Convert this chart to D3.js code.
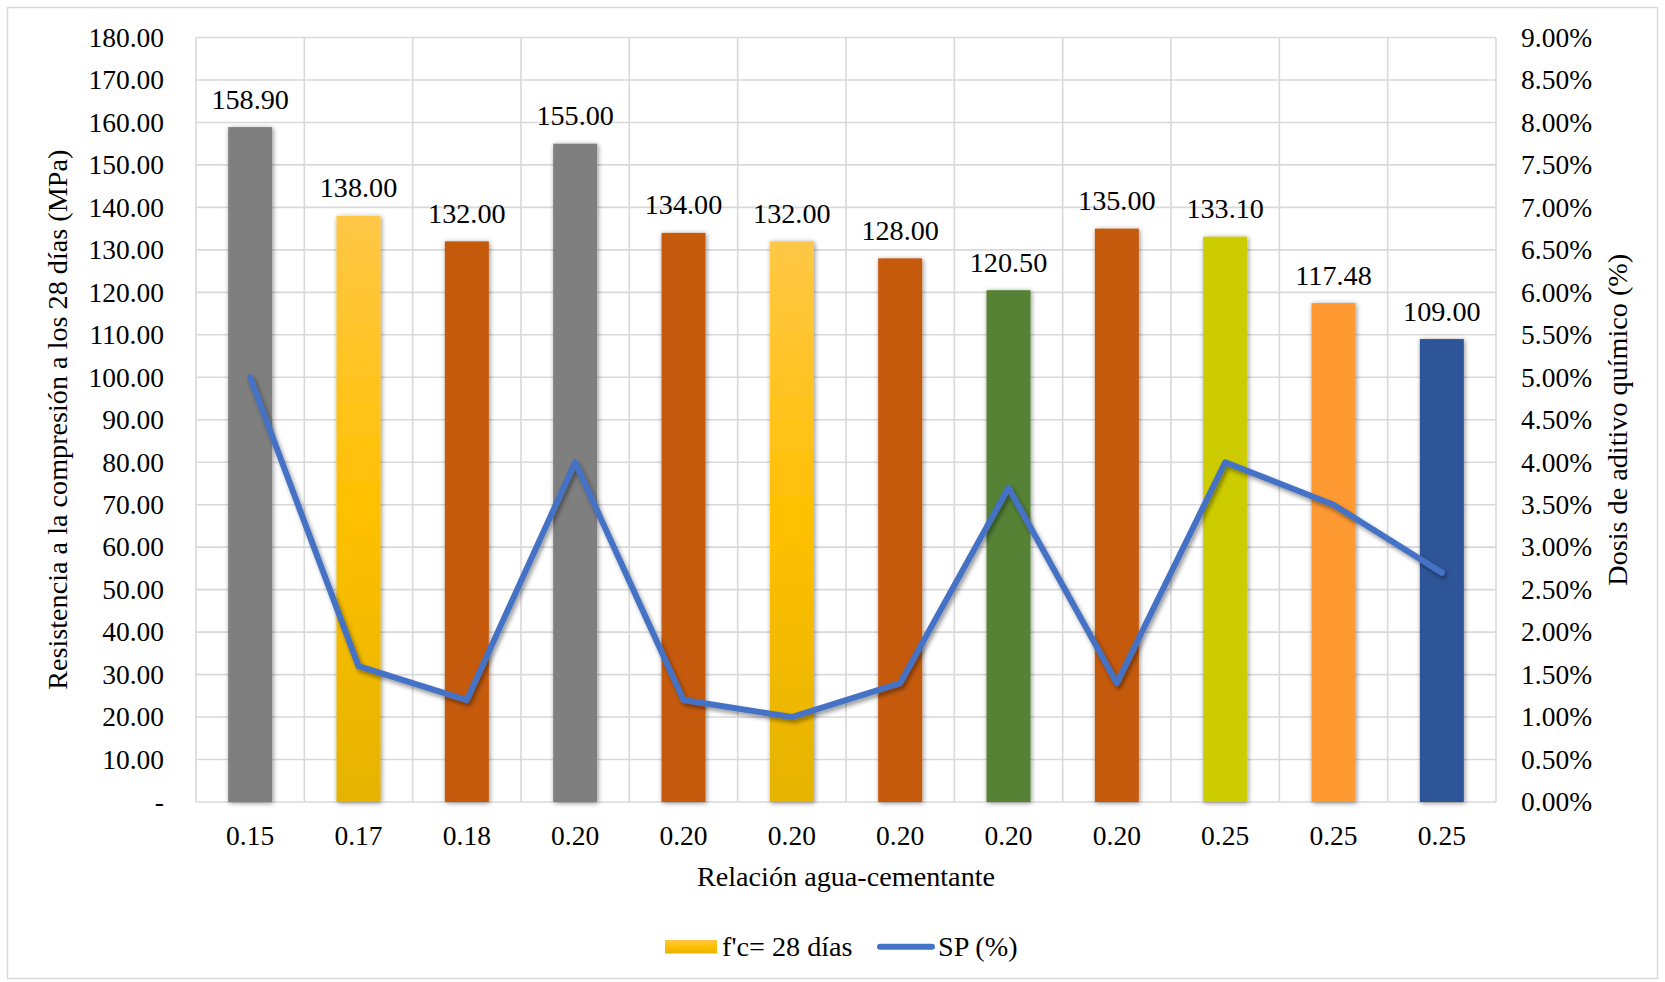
<!DOCTYPE html>
<html>
<head>
<meta charset="utf-8">
<script src="https://cdn.jsdelivr.net/npm/d3@7/dist/d3.min.js"></script>
<style>
  html, body { margin: 0; padding: 0; background: #ffffff; }
  svg { display: block; }
  text { font-family: "Liberation Serif", "Times New Roman", serif; fill: #000; }
</style>
</head>
<body>
<svg id="chart" width="1665" height="982"></svg>
<script>
// Water-cement ratio of each mix
const categories = ["0.15", "0.17", "0.18", "0.20", "0.20", "0.20", "0.20", "0.20", "0.20", "0.25", "0.25", "0.25"];
// Compressive strength at 28 days (MPa)
const fc28 = [158.90, 138.00, 132.00, 155.00, 134.00, 132.00, 128.00, 120.50, 135.00, 133.10, 117.48, 109.00];
// Superplasticizer dose (%)
const sp = [5.0, 1.6, 1.2, 4.0, 1.2, 1.0, 1.4, 3.7, 1.4, 4.0, 3.5, 2.7];
// Axis ticks
const leftTicks = d3.range(0, 181, 10);
const rightTicks = d3.range(0, 9.01, 0.5);

// Bar fill per mix
const barFill = ["#7f7f7f", "url(#gold)", "#c55a11", "#7f7f7f", "#c55a11", "url(#gold)",
                 "#c55a11", "#548235", "#c55a11", "#cccc00", "#ff9933", "#2f5597"];

const svg = d3.select("#chart");
const W = 1665, H = 982;
const m = { left: 196, right: 1496, top: 37.5, bottom: 802 };
const FS = 27.5;   // tick and value labels
const FT = 28.2;   // titles and legend

const defs = svg.append("defs");
const g = defs.append("linearGradient").attr("id", "gold").attr("x1", 0).attr("y1", 0).attr("x2", 0).attr("y2", 1);
g.append("stop").attr("offset", "0%").attr("stop-color", "#ffc746");
g.append("stop").attr("offset", "50%").attr("stop-color", "#ffc000");
g.append("stop").attr("offset", "100%").attr("stop-color", "#e5b300");

const barShadow = defs.append("filter").attr("id", "barShadow")
  .attr("x", "-30%").attr("y", "-10%").attr("width", "160%").attr("height", "120%");
barShadow.append("feDropShadow").attr("dx", 1).attr("dy", 1).attr("stdDeviation", 2.5)
  .attr("flood-color", "#000").attr("flood-opacity", 0.45);

const lineShadow = defs.append("filter").attr("id", "lineShadow")
  .attr("x", "-10%").attr("y", "-10%").attr("width", "120%").attr("height", "130%");
lineShadow.append("feDropShadow").attr("dx", 2).attr("dy", 3).attr("stdDeviation", 2)
  .attr("flood-color", "#000").attr("flood-opacity", 0.4);

// Chart frame
svg.append("rect").attr("x", 7.5).attr("y", 7.5).attr("width", W - 15).attr("height", H - 11)
  .attr("fill", "#fff").attr("stroke", "#d9d9d9").attr("stroke-width", 1.5);

const x = d3.scaleBand().domain(d3.range(categories.length)).range([m.left, m.right])
  .paddingInner(0.594).paddingOuter(0.297);
const step = x.step();
const y = d3.scaleLinear().domain([0, 180]).range([m.bottom, m.top]);
const y2 = d3.scaleLinear().domain([0, 9]).range([m.bottom, m.top]);

// Gridlines
const grid = svg.append("g").attr("stroke", "#d9d9d9").attr("stroke-width", 1.6);
grid.selectAll("line.h").data(leftTicks).join("line").attr("class", "h")
  .attr("x1", m.left).attr("x2", m.right).attr("y1", d => y(d)).attr("y2", d => y(d));
grid.selectAll("line.v").data(d3.range(categories.length + 1)).join("line").attr("class", "v")
  .attr("x1", i => m.left + i * step).attr("x2", i => m.left + i * step)
  .attr("y1", m.top).attr("y2", m.bottom);

// Left axis
const leftAxis = svg.append("g").attr("transform", `translate(${m.left},0)`)
  .call(d3.axisLeft(y).tickValues(leftTicks).tickSize(0).tickPadding(32)
    .tickFormat(d => d === 0 ? "-" : d.toFixed(2)));
leftAxis.select(".domain").remove();
leftAxis.selectAll("text").style("font-size", FS + "px").style("font-family", "Liberation Serif");

// Right axis
const rightAxis = svg.append("g").attr("transform", `translate(${m.right},0)`)
  .call(d3.axisRight(y2).tickValues(rightTicks).tickSize(0).tickPadding(25)
    .tickFormat(d => d.toFixed(2) + "%"));
rightAxis.select(".domain").remove();
rightAxis.selectAll("text").style("font-size", FS + "px").style("font-family", "Liberation Serif");

// Bottom axis
const bottomAxis = svg.append("g").attr("transform", `translate(0,${m.bottom})`)
  .call(d3.axisBottom(x).tickSize(0).tickPadding(23).tickFormat(i => categories[i]));
bottomAxis.select(".domain").remove();
bottomAxis.selectAll("text").style("font-size", FS + "px").style("font-family", "Liberation Serif");

// Bars
svg.append("g").selectAll("rect").data(fc28).join("rect")
  .attr("x", (d, i) => x(i)).attr("width", x.bandwidth())
  .attr("y", d => y(d)).attr("height", d => y(0) - y(d))
  .attr("fill", (d, i) => barFill[i]).attr("filter", "url(#barShadow)");

// Bar value labels
svg.append("g").selectAll("text").data(fc28).join("text")
  .attr("x", (d, i) => x(i) + x.bandwidth() / 2).attr("y", d => y(d) - 18.5)
  .attr("text-anchor", "middle").style("font-size", FT + "px")
  .text(d => d.toFixed(2));

// SP line
const line = d3.line().x((d, i) => x(i) + x.bandwidth() / 2).y(d => y2(d));
svg.append("path").datum(sp).attr("d", line).attr("fill", "none")
  .attr("stroke", "#4472c4").attr("stroke-width", 6)
  .attr("stroke-linejoin", "round").attr("stroke-linecap", "round")
  .attr("filter", "url(#lineShadow)");

// Axis titles
svg.append("text").attr("x", (m.left + m.right) / 2).attr("y", 886)
  .attr("text-anchor", "middle").style("font-size", FT + "px").text("Relación agua-cementante");
svg.append("text").attr("transform", `translate(67,${(m.top + m.bottom) / 2}) rotate(-90)`)
  .attr("text-anchor", "middle").style("font-size", FT + "px")
  .text("Resistencia a la compresión a los 28 días (MPa)");
svg.append("text").attr("transform", `translate(1627,${(m.top + m.bottom) / 2}) rotate(-90)`)
  .attr("text-anchor", "middle").style("font-size", FT + "px")
  .text("Dosis de aditivo químico (%)");

// Legend
const lg = svg.append("g");
lg.append("rect").attr("x", 665).attr("y", 940).attr("width", 52).attr("height", 13.5).attr("fill", "url(#gold)");
lg.append("text").attr("x", 722).attr("y", 956).style("font-size", FT + "px").text("f'c= 28 días");
lg.append("line").attr("x1", 880).attr("x2", 932).attr("y1", 946.7).attr("y2", 946.7)
  .attr("stroke", "#4472c4").attr("stroke-width", 6).attr("stroke-linecap", "round");
lg.append("text").attr("x", 938).attr("y", 956).style("font-size", FT + "px").text("SP (%)");
</script>
</body>
</html>
